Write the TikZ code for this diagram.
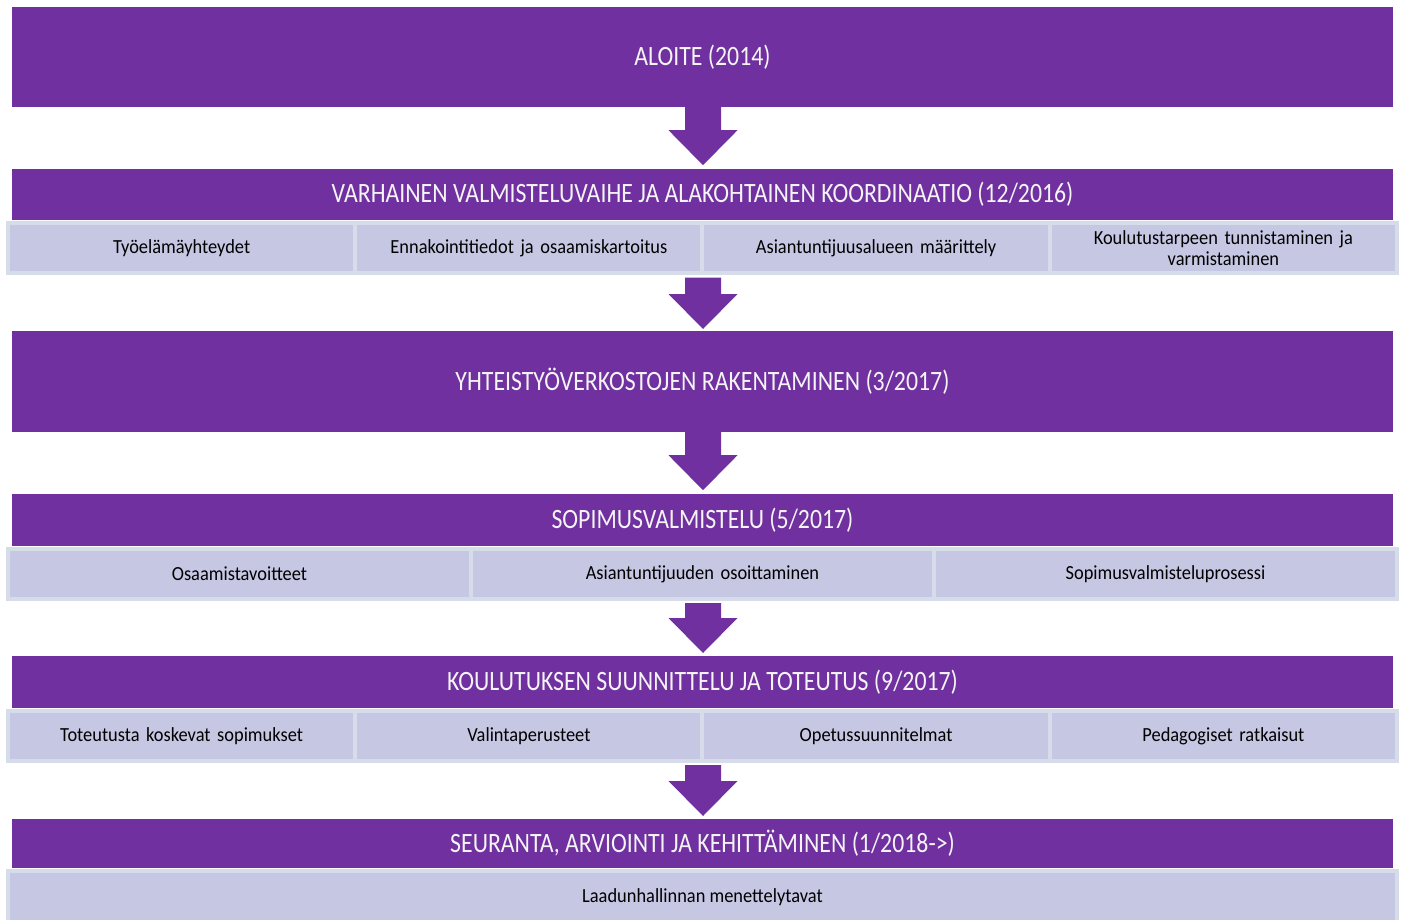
\documentclass[tikz,border=0pt]{standalone}
\usepackage{fontspec}
\setmainfont{Carlito}
\newfontfamily\titlefont{Carlito}[FakeStretch=0.85]
\newfontfamily\subfont{Carlito}[FakeStretch=0.92]
\usetikzlibrary{calc}
\definecolor{barpurple}{HTML}{7030A0}
\definecolor{subfill}{HTML}{C6C7E3}
\definecolor{subedge}{HTML}{D6DCE9}
\definecolor{titletext}{HTML}{F4F4F4}
\newcommand\flowarr[2]{%
  \fill[barpurple] ($(#1)+(-18,0)$) -- ($(#1)+(18,0)$) -- ($(#1)+(18,#2-35)$)
    -- ($(#1)+(34.5,#2-35)$) -- ($(#1)+(0,#2)$) -- ($(#1)+(-34.5,#2-35)$)
    -- ($(#1)+(-18,#2-35)$) -- cycle;}
\begin{document}
\begin{tikzpicture}[x=1pt,y=-1pt,
  bar/.style={fill=barpurple, draw=none, minimum width=1381pt, inner sep=0pt,
    text=titletext, font=\titlefont\fontsize{28}{30}\selectfont},
  subbox/.style={fill=subfill, draw=subedge, line width=4pt, minimum height=50pt,
    inner sep=0pt, align=center, text=black,
    font=\subfont\fontsize{20}{21}\selectfont},
  quarter/.style={subbox, minimum width=347.25pt, text width=330pt},
  third/.style={subbox, minimum width=463pt, text width=440pt}]
\useasboundingbox (0,0) rectangle (1406,920);

% bars
\node[bar, minimum height=100pt] (b1) at (702.5,57) {ALOITE (2014)};
\node[bar, minimum height=51pt] (b2) at (702.5,194.5) {VARHAINEN VALMISTELUVAIHE JA ALAKOHTAINEN KOORDINAATIO (12/2016)};
\node[bar, minimum height=101pt] (b3) at (702.5,381.5) {YHTEISTYÖVERKOSTOJEN RAKENTAMINEN (3/2017)};
\node[bar, minimum height=52pt] (b4) at (702.5,520) {SOPIMUSVALMISTELU (5/2017)};
\node[bar, minimum height=52pt] (b5) at (702.5,682) {KOULUTUKSEN SUUNNITTELU JA TOTEUTUS (9/2017)};
\node[bar, minimum height=49pt] (b6) at (702.5,843.5) {SEURANTA, ARVIOINTI JA KEHITTÄMINEN (1/2018->)};

% sub boxes row 2
\node[quarter] (s2a) at (181.6,248.5) {Työelämäyhteydet};
\node[quarter] (s2b) at (528.9,248.5) {Ennakointitiedot ja osaamiskartoitus};
\node[quarter] (s2c) at (876.1,248.5) {Asiantuntijuusalueen määrittely};
\node[quarter] (s2d) at (1223.4,248.5) {Koulutustarpeen tunnistaminen ja\\varmistaminen};

% sub boxes row 4
\node[third] (s4a) at (239.5,574) {Osaamistavoitteet};
\node[third] (s4b) at (702.5,574) {Asiantuntijuuden osoittaminen};
\node[third] (s4c) at (1165.5,574) {Sopimusvalmisteluprosessi};

% sub boxes row 5
\node[quarter] (s5a) at (181.6,736) {Toteutusta koskevat sopimukset};
\node[quarter] (s5b) at (528.9,736) {Valintaperusteet};
\node[quarter] (s5c) at (876.1,736) {Opetussuunnitelmat};
\node[quarter] (s5d) at (1223.4,736) {Pedagogiset ratkaisut};

% sub box row 6
\node[subbox, minimum width=1389pt, minimum height=52pt] (s6) at (702.5,897) {\raisebox{2pt}{Laadunhallinnan menettelytavat}};

% arrows
\coordinate (a1) at ($(b1.south)+(0.5,0)$);
\coordinate (a2) at ($(b3.north |- s2b.south)+(0.5,2)$);
\coordinate (a3) at ($(b3.south)+(0.5,0)$);
\coordinate (a4) at ($(b4.north |- s4b.south)+(0.5,2)$);
\coordinate (a5) at ($(b5.north |- s5b.south)+(0.5,2)$);
\flowarr{a1}{58}
\flowarr{a2}{51.5}
\flowarr{a3}{58}
\flowarr{a4}{50}
\flowarr{a5}{51}
\end{tikzpicture}
\end{document}
